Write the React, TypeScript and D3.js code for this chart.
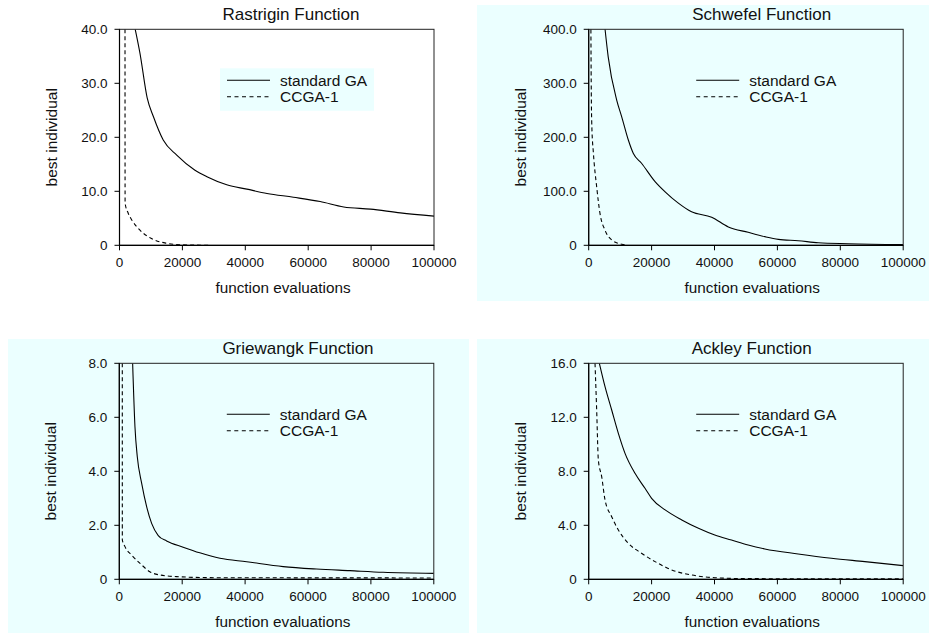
import * as d3 from 'd3'

type Pt = [number, number]

const xTicks = [0, 20000, 40000, 60000, 80000, 100000]
const seriesNames = ['standard GA', 'CCGA-1']

const rastriginTicks = [0, 10, 20, 30, 40]
const rastriginGA: Pt[] = [
  [5000, 40], [6500, 35.6], [8800, 27.3], [10800, 23.8], [13900, 19.5], [18200, 16.7],
  [24000, 13.9], [27800, 12.7], [34100, 11.2], [40500, 10.4], [46900, 9.6], [55300, 8.9],
  [63800, 8.1], [71300, 7.1], [79800, 6.7], [89300, 6.0], [100000, 5.4],
]
const rastriginCCGA: Pt[] = [
  [1750, 40], [1780, 7.8], [2800, 5.9], [4000, 4.6], [6500, 2.8], [10700, 1.1],
  [15000, 0.37], [19300, 0.1], [29000, 0],
]

const schwefelTicks = [0, 100, 200, 300, 400]
const schwefelGA: Pt[] = [
  [5200, 400], [6200, 349], [8900, 269], [10500, 238], [12600, 195], [14200, 170],
  [16800, 152], [21100, 118], [24300, 99], [28500, 78], [32700, 62], [39100, 52],
  [44400, 34], [50700, 24], [56000, 16], [60300, 11], [66600, 8.5], [73000, 4.8],
  [82500, 3], [100000, 1.2],
]
const schwefelCCGA: Pt[] = [
  [700, 400], [800, 300], [1000, 220], [1480, 172], [2540, 108], [3590, 59],
  [5180, 28], [7300, 10], [10500, 2], [12000, 0.5],
]

const griewangkTicks = [0, 2, 4, 6, 8]
const griewangkGA: Pt[] = [
  [4240, 8], [4980, 5.65], [5720, 4.54], [7100, 3.56], [8690, 2.69], [10280, 2.07],
  [12390, 1.62], [15040, 1.42], [20300, 1.19], [25600, 0.98], [32000, 0.78],
  [40500, 0.65], [52100, 0.47], [62700, 0.38], [73300, 0.32], [83900, 0.26], [100000, 0.22],
]
const griewangkCCGA: Pt[] = [
  [950, 8], [960, 1.46], [1800, 1.21], [3900, 0.9], [6600, 0.59], [9700, 0.28],
  [12900, 0.16], [18200, 0.1], [30000, 0.06], [100000, 0.05],
]

const ackleyTicks = [0, 4, 8, 12, 16]
const ackleyGA: Pt[] = [
  [3390, 16], [5190, 14.27], [7310, 12.54], [9430, 10.81], [11550, 9.33], [14720, 7.85],
  [17900, 6.74], [20000, 6.0], [24300, 5.14], [29600, 4.4], [34900, 3.78], [40100, 3.28],
  [45400, 2.91], [50700, 2.54], [56000, 2.25], [66600, 1.88], [77200, 1.56],
  [87800, 1.31], [100000, 1.01],
]
const ackleyCCGA: Pt[] = [
  [2010, 16], [2540, 12.5], [3070, 8.84], [4130, 7.6], [5190, 5.88], [7310, 4.64],
  [9430, 3.65], [12600, 2.67], [16800, 1.93], [21100, 1.31], [26400, 0.69],
  [32700, 0.32], [40100, 0.12], [50700, 0.05], [100000, 0.03],
]

const BG = '#ebffff'
const FONT = '"Liberation Sans", Arial, Helvetica, sans-serif'
const PW = 314.5
const PH = 216

const panels = [
  { title: 'Rastrigin Function', ticks: rastriginTicks, ga: rastriginGA, cc: rastriginCCGA,
    left: 119.5, top: 29.3, titleDx: 171.5, bg: null, legendBox: true },
  { title: 'Schwefel Function', ticks: schwefelTicks, ga: schwefelGA, cc: schwefelCCGA,
    left: 588.7, top: 29.3, titleDx: 173, bg: [477, 5, 452, 296], legendBox: false },
  { title: 'Griewangk Function', ticks: griewangkTicks, ga: griewangkGA, cc: griewangkCCGA,
    left: 119.3, top: 363.3, titleDx: 178.7, bg: [8, 339, 461, 294], legendBox: false },
  { title: 'Ackley Function', ticks: ackleyTicks, ga: ackleyGA, cc: ackleyCCGA,
    left: 588.7, top: 363.3, titleDx: 163, bg: [477, 339, 452, 294], legendBox: false },
]

const Panel = ({ p, idx }: { p: (typeof panels)[number]; idx: number }) => {
  const x = d3.scaleLinear().domain([0, 100000]).range([0, PW])
  const ymax = p.ticks[p.ticks.length - 1]
  const y = d3.scaleLinear().domain([0, ymax]).range([PH, 0])
  const line = d3.line<Pt>().x(d => x(d[0])).y(d => y(d[1])).curve(d3.curveMonotoneX)
  const clipId = `clip${idx}`

  return (
    <g>
      {p.bg && <rect x={p.bg[0]} y={p.bg[1]} width={p.bg[2]} height={p.bg[3]} fill={BG} />}
      <g transform={`translate(${p.left},${p.top})`}>
        <clipPath id={clipId}>
          <rect x={0} y={0} width={PW} height={PH} />
        </clipPath>
        <text x={p.titleDx} y={-9} textAnchor="middle" fontSize={17} fill="#111">{p.title}</text>
        {p.legendBox && <rect x={100.5} y={39} width={154} height={42.5} fill={BG} />}
        <g clipPath={`url(#${clipId})`}>
          <path d={line(p.ga) ?? ''} fill="none" stroke="#000" strokeWidth={1.1} />
          <path d={line(p.cc) ?? ''} fill="none" stroke="#000" strokeWidth={1.1} strokeDasharray="4,3" />
        </g>
        <rect x={0} y={0} width={PW} height={PH} fill="none" stroke="#222" strokeWidth={1} />
        <line x1={0} x2={0} y1={0} y2={PH} stroke="#000" strokeWidth={1.2} />
        <line x1={0} x2={PW} y1={PH} y2={PH} stroke="#000" strokeWidth={1.2} />
        {p.ticks.map(t => (
          <g key={t}>
            <line x1={-5} x2={0} y1={y(t)} y2={y(t)} stroke="#000" />
            <text x={-12} y={y(t) + 4.8} textAnchor="end" fontSize={13.5} fill="#111">
              {t === 0 ? '0' : t.toFixed(1)}
            </text>
          </g>
        ))}
        {xTicks.map(t => (
          <g key={t}>
            <line x1={x(t)} x2={x(t)} y1={PH} y2={PH + 5} stroke="#000" />
            <text x={x(t)} y={PH + 21.5} textAnchor="middle" fontSize={13.5} fill="#111">{t}</text>
          </g>
        ))}
        <text x={163.5} y={PH + 47.7} textAnchor="middle" fontSize={15.3} fill="#111">
          function evaluations
        </text>
        <text transform={`translate(-63,${PH / 2}) rotate(-90)`} textAnchor="middle" fontSize={15.5} fill="#111">
          best individual
        </text>
        {seriesNames.map((s, i) => (
          <g key={s}>
            <line x1={107.5} x2={150.5} y1={51 + i * 16.5} y2={51 + i * 16.5} stroke="#000"
              strokeWidth={1.1} strokeDasharray={i === 1 ? '4,3.5' : undefined} />
            <text x={160.5} y={56.5 + i * 16.5} fontSize={15.5} fill="#111">{s}</text>
          </g>
        ))}
      </g>
    </g>
  )
}

const App = () => (
  <svg width={929} height={633} style={{ position: 'absolute', left: 0, top: 0, fontFamily: FONT }}>
    <rect width={929} height={633} fill="#fff" />
    {panels.map((p, i) => <Panel key={p.title} p={p} idx={i} />)}
  </svg>
)

export default App
